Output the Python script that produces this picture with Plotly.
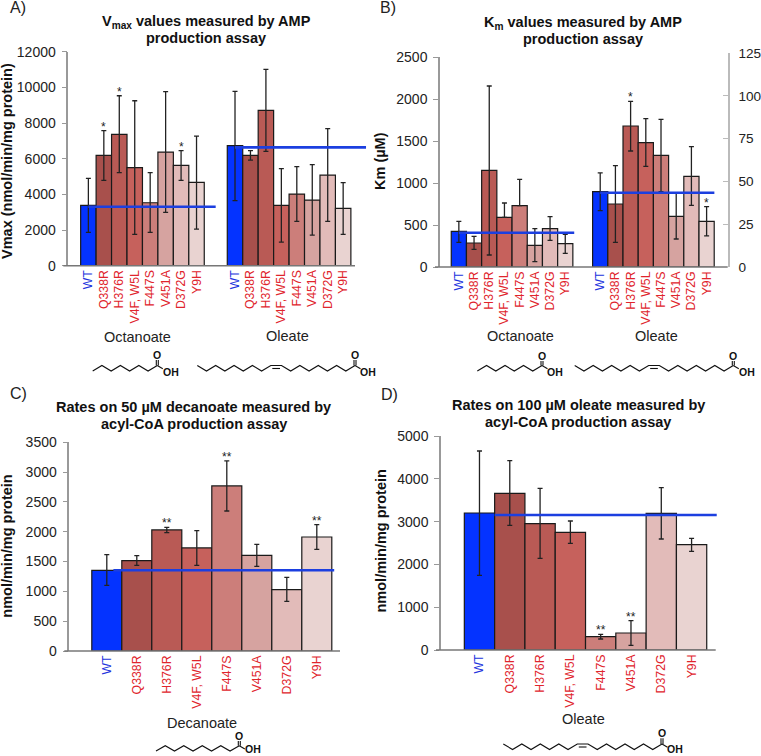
import plotly.graph_objects as go

W, H = 761, 756
FONT = "Liberation Sans"

# ---------- data ----------
mutants = ["WT", "Q338R", "H376R", "V4F, W5L", "F447S", "V451A", "D372G", "Y9H"]
bar_colors = ["#0433FF", "#A8504C", "#B95A55", "#C6615C", "#CC7E7A", "#D6A3A0", "#E2BBB9", "#E9D3D1"]

vmax_oct = [3383, 6187, 7365, 5495, 3530, 6374, 5626, 4673]
vmax_oct_hi = [4900, 7570, 9530, 9250, 5215, 9757, 6450, 7270]
vmax_oct_lo = [1870, 4785, 5215, 1757, 1870, 2990, 4785, 2056]
vmax_ole = [6730, 6187, 8710, 3383, 4019, 3682, 5084, 3215]
vmax_ole_hi = [9775, 6450, 11010, 5440, 5550, 5664, 7682, 4654]
vmax_ole_lo = [3645, 5925, 6410, 1327, 2486, 1720, 2486, 1757]

km_oct = [425, 286, 1153, 592, 731, 258, 457, 278]
km_oct_hi = [545, 366, 2158, 763, 1045, 457, 600, 390]
km_oct_lo = [294, 211, 143, 592, 731, 64, 318, 163]
km_ole = [898, 751, 1681, 1483, 1331, 604, 1081, 545]
km_ole_hi = [1121, 1208, 1975, 1769, 1761, 878, 1435, 719]
km_ole_lo = [672, 294, 1383, 1200, 898, 334, 735, 370]

dec_rate = [1353, 1515, 2030, 1728, 2768, 1605, 1029, 1912]
dec_rate_hi = [1616, 1599, 2074, 2018, 3187, 1789, 1236, 2119]
dec_rate_lo = [1101, 1437, 1985, 1437, 2348, 1420, 833, 1705]

ole_rate = [3201, 3660, 2952, 2749, 312, 397, 3193, 2461]
ole_rate_hi = [4650, 4424, 3777, 3014, 366, 685, 3793, 2609]
ole_rate_lo = [1745, 2913, 2142, 2492, 257, 109, 2593, 2305]

wt_lines = {"A": [3308, 6636], "B": [409, 886], "C": [1353], "D": [3154]}
stars_map = {
    "A": [{"Q338R": "*", "H376R": "*", "D372G": "*"}, {}],
    "B": [{}, {"H376R": "*", "Y9H": "*"}],
    "C": [{"H376R": "**", "F447S": "**", "Y9H": "**"}],
    "D": [{"F447S": "**", "V451A": "**"}],
}

# ---------- geometry (pixels in the 761x756 page) ----------
PANELS = {
    "A": dict(ax=68.3, right=372, end=355, y0=265.7, ytop=51.7, ymax=12000, dtick=2000, slot=15.45,
              starts=[0.8, 10.29], line_from=[0.5, 0.5], line_to=[9.54, 19.27],
              series=[(vmax_oct, vmax_oct_hi, vmax_oct_lo), (vmax_ole, vmax_ole_hi, vmax_ole_lo)],
              title=["V<sub>max</sub> values measured by AMP", "production assay"], tx=206, ty=[22, 38.3],
              ytitle="Vmax (nmol/min/mg protein)", ytx=7, yty=161),
    "B": dict(ax=440, right=727.7, end=727.7, y0=267, ytop=57.3, ymax=2500, dtick=500, slot=15.2,
              starts=[0.74, 10.04], line_from=[0.5, 0.5], line_to=[8.83, 18.05],
              series=[(km_oct, km_oct_hi, km_oct_lo), (km_ole, km_ole_hi, km_ole_lo)],
              title=["K<sub>m</sub> values measured by AMP", "production assay"], tx=583, ty=[22.5, 39],
              ytitle="Km (µM)", ytx=380, yty=161),
    "C": dict(ax=69.3, right=345, end=340, y0=651, ytop=442.3, ymax=3500, dtick=500, slot=30,
              starts=[0.75], line_from=[0.72], line_to=[8.83],
              series=[(dec_rate, dec_rate_hi, dec_rate_lo)],
              title=["Rates on 50 µM decanoate measured by", "acyl-CoA production assay"], tx=193.5, ty=[407, 424.3],
              ytitle="nmol/min/mg protein", ytx=7, yty=546.7),
    "D": dict(ax=441, right=720, end=715.7, y0=650, ytop=436, ymax=5000, dtick=1000, slot=30.3,
              starts=[0.77], line_from=[1.0], line_to=[9.1],
              series=[(ole_rate, ole_rate_hi, ole_rate_lo)],
              title=["Rates on 100 µM oleate measured by", "acyl-CoA production assay"], tx=578, ty=[405, 422.3],
              ytitle="nmol/min/mg protein", ytx=380, yty=541.5),
}

group_labels = [("Octanoate", 137.7, 336.7), ("Oleate", 287, 336), ("Octanoate", 520, 336),
                ("Oleate", 656.7, 336), ("Decanoate", 202, 722.7), ("Oleate", 583.7, 719)]
panel_labels = [("A)", 8, 7), ("B)", 378, 7), ("C)", 8, 393), ("D)", 379, 394)]

def px(x): return x / W
def py(y): return 1 - y / H

fig = go.Figure()
layout = {}
shapes, annotations = [], []

for i, (name, p) in enumerate(PANELS.items(), start=1):
    xa, ya = ("x", "y") if i == 1 else (f"x{i}", f"y{i}")
    xk, yk = xa.replace("x", "xaxis"), ya.replace("y", "yaxis")
    tickvals, ticktext = [], []
    for start, (vals, hi, lo), frm, to, wt, stars in zip(
            p["starts"], p["series"], p["line_from"], p["line_to"], wt_lines[name], stars_map[name]):
        xs = [start + k + 0.5 for k in range(len(mutants))]
        tickvals += xs
        ticktext += [f'<span style="color:{"#2233DD" if m == "WT" else "#E0242C"}">{m}</span>' for m in mutants]
        fig.add_trace(go.Bar(
            x=xs, y=vals, width=1, xaxis=xa, yaxis=ya, showlegend=False,
            marker=dict(color=bar_colors, line=dict(color="#1a1a1a", width=1.2)),
            error_y=dict(type="data", symmetric=False,
                         array=[h - v for h, v in zip(hi, vals)],
                         arrayminus=[v - l for v, l in zip(vals, lo)],
                         color="#222222", thickness=1.3, width=2.5)))
        fig.add_trace(go.Scatter(
            x=[start + frm, to], y=[wt, wt], mode="lines", xaxis=xa, yaxis=ya,
            showlegend=False, line=dict(color="#1C3FE0", width=2.6)))
        for m, s in stars.items():
            k = mutants.index(m)
            annotations.append(dict(text=s, x=xs[k], y=hi[k], xref=xa, yref=ya, showarrow=False,
                                    xanchor="center", yanchor="bottom", yshift=-5,
                                    font=dict(family=FONT, size=12, color="#222222")))
    layout[xk] = dict(domain=[px(p["ax"]), px(p["right"])], range=[0, (p["right"] - p["ax"]) / p["slot"]],
                      anchor=ya, tickmode="array", tickvals=tickvals, ticktext=ticktext, tickangle=-90,
                      ticks="", showgrid=False, zeroline=False, showline=False, fixedrange=True,
                      tickfont=dict(family=FONT, size=12.3), ticklabelstandoff=1)
    layout[yk] = dict(domain=[py(p["y0"]), py(p["ytop"])], range=[0, p["ymax"]], anchor=xa, dtick=p["dtick"],
                      tickformat="d", ticks="outside", ticklen=5, tickwidth=1, tickcolor="#999999",
                      showgrid=False, zeroline=False,
                      showline=True, linecolor="#999999", linewidth=1.5, fixedrange=True,
                      tickfont=dict(family=FONT, size=14, color="#222222"), ticklabelstandoff=3)
    shapes.append(dict(type="line", xref="paper", yref="paper", x0=px(p["ax"] - 5), x1=px(p["end"]),
                       y0=py(p["y0"]), y1=py(p["y0"]), line=dict(color="#777777", width=1.4), layer="above"))
    for line, ty in zip(p["title"], p["ty"]):
        annotations.append(dict(text=f"<b>{line}</b>", x=px(p["tx"]), y=py(ty), xref="paper", yref="paper",
                                showarrow=False, xanchor="center", yanchor="middle", align="center",
                                font=dict(family=FONT, size=14.5, color="#111111")))
    annotations.append(dict(text=f"<b>{p['ytitle']}</b>", x=px(p["ytx"]), y=py(p["yty"]), xref="paper", yref="paper",
                            showarrow=False, textangle=-90, xanchor="center", yanchor="middle",
                            font=dict(family=FONT, size=14.5, color="#111111")))

# right-hand axis of panel B
km_right_ticks = [0, 25, 50, 75, 100, 125]
layout["yaxis5"] = dict(domain=[py(267), py(53)], range=[0, 125], anchor="x2", side="right", tickmode="array",
                        tickvals=km_right_ticks, ticks="inside", ticklen=5, tickwidth=1, tickcolor="#BBBBBB",
                        showline=True, linecolor="#BBBBBB", linewidth=2, showgrid=False, zeroline=False,
                        fixedrange=True, ticklabelstandoff=6, tickfont=dict(family=FONT, size=13.6, color="#222222"))
fig.add_trace(go.Scatter(x=[], y=[], xaxis="x2", yaxis="y5", showlegend=False))

for text, x, y in group_labels:
    annotations.append(dict(text=text, x=px(x), y=py(y), xref="paper", yref="paper", showarrow=False,
                            xanchor="center", yanchor="middle", font=dict(family=FONT, size=14.5, color="#222222")))
for text, x, y in panel_labels:
    annotations.append(dict(text=text, x=px(x), y=py(y), xref="paper", yref="paper", showarrow=False,
                            xanchor="left", yanchor="middle", font=dict(family=FONT, size=16, color="#222222")))

# ---------- skeletal formulas (decoration) ----------
def path(pts):
    d = "M " + " L ".join(f"{px(a):.5f},{py(b):.5f}" for a, b in pts)
    return dict(type="path", path=d, xref="paper", yref="paper", line=dict(color="#111111", width=1.1))

def skeleton(x0, xc, yhi, ylo, left, right, start_low, yo, oh_y=None):
    flat = 10.7 if right else 0
    step = (xc - x0 - flat) / (left + right)
    pts, low = [], start_low
    for k in range(left + 1):
        pts.append((x0 + k * step, ylo if low else yhi))
        low = not low
    if right:
        bx = pts[-1][0]
        for k in range(right + 1):
            pts.append((bx + flat + k * step, yhi if k % 2 == 0 else ylo))
        shapes.append(path([(bx + 1.5, yhi + 3), (bx + flat - 1.5, yhi + 3)]))
    shapes.append(path(pts))
    shapes.append(path([(xc - 1, yhi), (xc - 1, yo + 5)]))
    shapes.append(path([(xc + 1, yhi), (xc + 1, yo + 5)]))
    shapes.append(path([(xc, yhi), (xc + 5.5, yhi + 3.2)]))
    annotations.append(dict(text="<b>O</b>", x=px(xc), y=py(yo), xref="paper", yref="paper", showarrow=False,
                            xanchor="center", yanchor="middle",
                            font=dict(family=FONT, size=10.5, color="#111111")))
    annotations.append(dict(text="<b>OH</b>", x=px(xc + 13.4), y=py(oh_y or ylo + 0.5), xref="paper", yref="paper",
                            showarrow=False, xanchor="center", yanchor="middle",
                            font=dict(family=FONT, size=10.5, color="#111111")))

skeleton(92.7, 157.3, 365.5, 371, 7, 0, True, 355)
skeleton(197.3, 355, 365.5, 371, 8, 8, False, 355)
skeleton(477.3, 542, 365.5, 371, 7, 0, True, 356)
skeleton(574.7, 733.3, 365.5, 371, 8, 8, False, 356)
skeleton(156, 239.3, 745.7, 751, 9, 0, True, 736, oh_y=749)
skeleton(503.3, 662, 744, 749.5, 8, 8, False, 733.3, oh_y=749)

fig.update_layout(width=W, height=H, margin=dict(l=0, r=0, t=0, b=0, autoexpand=False),
                  paper_bgcolor="white", plot_bgcolor="rgba(0,0,0,0)",
                  showlegend=False, shapes=shapes, annotations=annotations, **layout)
fig.write_html("out.html", post_script="document.body.style.margin='0';", config={"displayModeBar": False})
